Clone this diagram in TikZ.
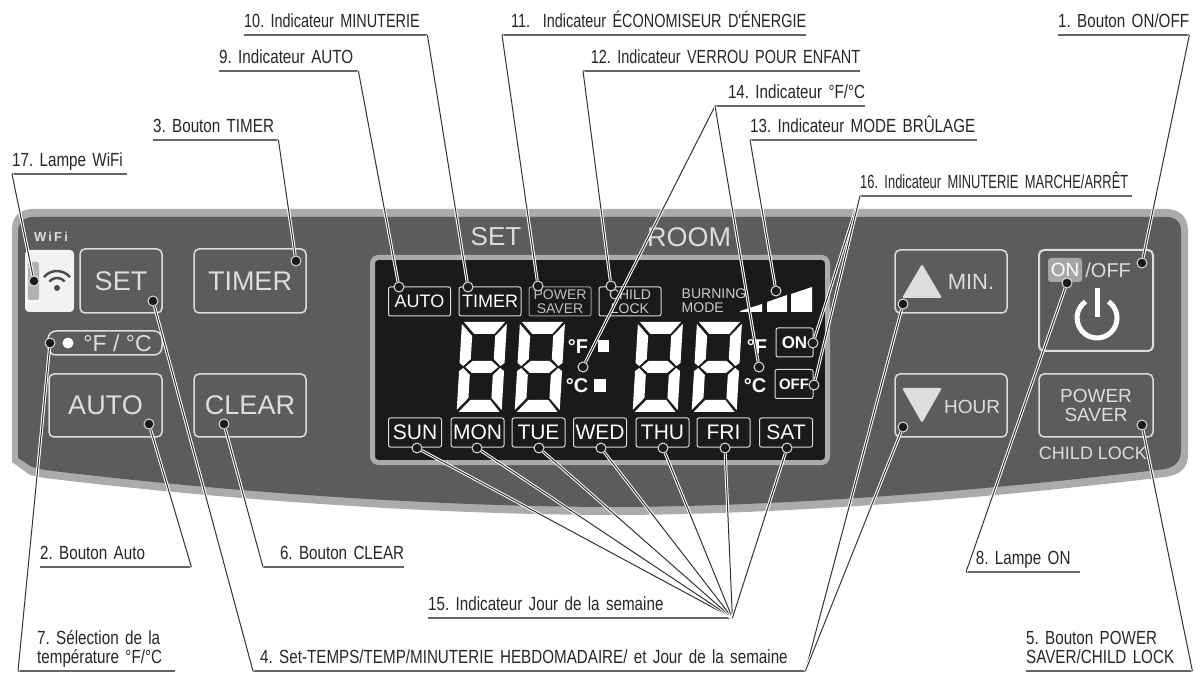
\documentclass[tikz,border=0pt]{standalone}
\usepackage{fontspec}
\usepackage{tikz}
\usetikzlibrary{positioning}
\setmainfont{Liberation Sans}
\newfontfamily\lblfamily{Liberation Sans}[FakeStretch=0.8]
\newfontfamily\tightfamily{Liberation Sans}[FakeStretch=0.76]
\newfontfamily\tighterfamily{Liberation Sans}[FakeStretch=0.68]
\definecolor{shell}{HTML}{5D5B5D}
\definecolor{rim}{HTML}{ABABAB}
\definecolor{glass}{HTML}{1B191B}
\definecolor{bright}{HTML}{DDDDDD}
\newcommand{\fsz}[1]{\fontsize{#1}{#1}\selectfont}
\tikzstyle{lbl} = [font=\lblfamily\fontsize{19}{19}\selectfont\frenchspacing, text=black!85, inner xsep=0pt, inner ysep=2pt,
    anchor=south west, align=left, execute at end node=\strut]
\tikzstyle{rule} = [draw=black!60, line width=1.8pt]
\tikzstyle{lead} = [draw=black!80, line width=1pt, preaction={draw=white, line width=3pt}]
\tikzstyle{marker} = [circle, draw=bright, fill=glass, line width=1pt, minimum size=10pt, inner sep=0pt]
\tikzstyle{btn} = [draw=bright, line width=1.5pt, rounded corners=5pt, inner sep=0pt, text=bright, font=\fsz{27}]
\tikzstyle{paneltext} = [text=bright, inner sep=0pt]
\tikzstyle{tag} = [draw=bright, line width=1pt, rounded corners=2pt, inner sep=0pt, text=white, align=center,
    minimum width=62pt, minimum height=29pt]
\tikzstyle{daytag} = [tag, minimum width=53pt, font=\fsz{21}]
\tikzstyle{seg} = [fill=white]
% one seven segment digit, top left corner at #1,#2
\newcommand{\lcddigit}[2]{
    \begin{scope}[shift={(#1,#2)}, xslant=0.06]
        \fill[seg] (2,0)--(43,0)--(33,12)--(13,12)--cycle;
        \fill[seg] (2,90)--(43,90)--(33,78)--(13,78)--cycle;
        \fill[seg] (6,45)--(13,39)--(32,39)--(39,45)--(32,51)--(13,51)--cycle;
        \fill[seg] (0,2)--(11,14)--(11,37)--(4,44)--(0,41)--cycle;
        \fill[seg] (45,2)--(34,14)--(34,37)--(41,44)--(45,41)--cycle;
        \fill[seg] (0,49)--(4,46)--(11,53)--(11,76)--(0,88)--cycle;
        \fill[seg] (45,49)--(41,46)--(34,53)--(34,76)--(45,88)--cycle;
    \end{scope}
}

\begin{document}
\begin{tikzpicture}[x=1pt,y=-1pt]
    \useasboundingbox (0,0) rectangle (1195,676);
    % panel
    \fill[rim] (12,230) .. controls (12,216) and (20,209) .. (34,209) -- (1166,209)
        .. controls (1180,209) and (1188,217) .. (1188,231) -- (1188,455)
        .. controls (1188,468) and (1180,475) .. (1165,477)
        .. controls (1000,497) and (800,514) .. (620,515)
        .. controls (420,515) and (200,497) .. (45,478) -- (30,475) -- (12,462) -- cycle;
    \fill[shell] (18,232) .. controls (18,222) and (24,217) .. (34,217) -- (1166,217)
        .. controls (1176,217) and (1181,222) .. (1181,232) -- (1181,450)
        .. controls (1181,461) and (1175,467) .. (1165,469)
        .. controls (1000,489) and (800,506) .. (620,507)
        .. controls (420,507) and (200,489) .. (45,470) -- (32,467) -- (18,458) -- cycle;
    % left buttons
    \node[paneltext, font=\bfseries\fsz{13}] (wifitext) at (51,237) {W\,i\,F\,i};
    \node[fill=white!95!black, rounded corners=4pt, minimum width=49pt, minimum height=62pt, inner sep=0pt] (wifi) at (49.5,281) {};
    \fill[black!30, rounded corners=2pt] (28,262) rectangle (39,300);
    \fill[black!70] (57,288) circle (3pt);
    \draw[black!70, line width=2.5pt] (57,288) ++(40:10pt) arc[start angle=40, end angle=140, radius=10pt];
    \draw[black!70, line width=2.5pt] (57,288) ++(40:17pt) arc[start angle=40, end angle=140, radius=17pt];
    \node[btn, minimum width=82pt, minimum height=64pt] (setbtn) at (121,281) {SET};
    \node[btn, minimum width=112pt, minimum height=64pt] (timerbtn) at (250,281) {TIMER};
    \node[btn, minimum width=113pt, minimum height=63pt] (autobtn) at (105.5,405.5) {AUTO};
    \node[btn, minimum width=112pt, minimum height=63pt] (clearbtn) at (250,405.5) {CLEAR};
    \node[btn, minimum width=114pt, minimum height=24pt, rounded corners=8pt, font=\fsz{23}] (unitbtn) at (105,343) {\hspace{25pt}°F / °C};
    \node[circle, fill=white, minimum size=11pt, inner sep=0pt] (unitled) at (68,343) {};
    % display
    \node[paneltext, font=\fsz{26}] (settext) at (496,237) {SET};
    \node[paneltext, font=\fsz{27}] (roomtext) at (689,237) {ROOM};
    \node[draw=rim, fill=glass, line width=5pt, rounded corners=6pt, minimum width=455pt, minimum height=205pt] (lcd) at (600,360) {};
    \node[tag, font=\fsz{18}] (autotag) at (419.5,301.5) {AUTO};
    \node[tag, font=\fsz{18}] (timertag) at (490,301.5) {TIMER};
    \node[tag, font=\fsz{14}, text=black!25, draw=black!40] (powertag) at (560,301.5) {\fontsize{14}{12}\selectfont POWER\\SAVER};
    \node[tag, font=\fsz{14}, text=black!20] (childtag) at (630,301.5) {\fontsize{14}{12}\selectfont CHILD\\LOCK};
    \node[inner sep=0pt, text=black!20, align=left, font=\fsz{14}] (burntext) at (714,301) {\fontsize{14}{12}\selectfont BURNING\\MODE};
    \fill[white] (740,312)--(740,311)--(762,304)--(762,312)--cycle;
    \fill[white] (767,312)--(767,302)--(787,295)--(787,312)--cycle;
    \fill[white] (791,312)--(791,294)--(812,287)--(812,312)--cycle;
    \lcddigit{462}{322}
    \lcddigit{520}{322}
    \lcddigit{638}{322}
    \lcddigit{697}{322}
    \fill[white] (598,340) rectangle (609,352);
    \fill[white] (594,379) rectangle (606,392);
    \node[paneltext, text=white, font=\bfseries\fsz{20}] (leftf) at (578,347) {°F};
    \node[paneltext, text=white, font=\bfseries\fsz{20}] (leftc) at (577,386) {°C};
    \node[paneltext, text=white, font=\bfseries\fsz{20}] (rightf) at (757,347) {°F};
    \node[paneltext, text=white, font=\bfseries\fsz{20}] (rightc) at (755,386) {°C};
    \node[tag, minimum width=37pt, font=\bfseries\fsz{17}] (ontag) at (794.5,342.5) {ON};
    \node[tag, minimum width=38pt, font=\bfseries\fsz{15}] (offtag) at (794,384) {OFF};
    \node[daytag] (suntag) at (415,432.5) {SUN};
    \node[daytag] (montag) at (477.5,432.5) {MON};
    \node[daytag] (tuetag) at (538.5,432.5) {TUE};
    \node[daytag] (wedtag) at (600,432.5) {WED};
    \node[daytag] (thutag) at (662.5,432.5) {THU};
    \node[daytag] (fritag) at (723.5,432.5) {FRI};
    \node[daytag] (sattag) at (786,432.5) {SAT};
    % right buttons
    \node[btn, minimum width=112pt, minimum height=63pt] (minbtn) at (951,281.5) {};
    \fill[bright, rounded corners=2pt] (922,264)--(942,298)--(902,298)--cycle;
    \node[paneltext, font=\fsz{22}] (mintext) at (971,282) {MIN.};
    \node[btn, minimum width=112pt, minimum height=63pt] (hourbtn) at (951,405.5) {};
    \fill[bright, rounded corners=2pt] (902,388)--(942,388)--(922,423)--cycle;
    \node[paneltext, font=\fsz{19}] (hourtext) at (972,407) {HOUR};
    \node[btn, minimum width=114pt, minimum height=101pt, line width=2pt] (powerbtn) at (1096,300.5) {};
    \node[fill=black!35, rounded corners=3pt, inner sep=0pt, minimum width=34pt, minimum height=24pt, text=white, font=\fsz{19}] (onlamp) at (1065,270) {ON};
    \node[paneltext, font=\fsz{20}, right=3pt of onlamp] (offtext) {/OFF};
    \draw[white, line width=5pt] (1108.5,301.6) arc[start angle=55, end angle=-235, radius=20pt];
    \draw[white, line width=5pt] (1097,288) -- (1097,317);
    \node[btn, minimum width=114pt, minimum height=63pt, align=center, font=\fsz{19}] (savebtn) at (1096,405.5) {\fontsize{19}{18}\selectfont POWER\\SAVER};
    \node[paneltext, font=\fsz{18}] (childtext) at (1093,453) {CHILD LOCK};
    % markers
    \node[marker] (wifipin) at (34,281) {};
    \node[marker] (setpin) at (153,301) {};
    \node[marker] (timerpin) at (296,261) {};
    \node[marker] (unitpin) at (50,343) {};
    \node[marker] (autopin) at (149,424) {};
    \node[marker] (clearpin) at (224,424) {};
    \node[marker] (iautopin) at (399,287) {};
    \node[marker] (itimerpin) at (468,287) {};
    \node[marker] (isavepin) at (538,286) {};
    \node[marker] (ichildpin) at (611,286) {};
    \node[marker] (iburnpin) at (776,291) {};
    \node[marker] (ifcleft) at (583,367) {};
    \node[marker] (ifcright) at (759,367) {};
    \node[marker] (ionpin) at (813,343) {};
    \node[marker] (ioffpin) at (814,385) {};
    \node[marker] (sunpin) at (417,448) {};
    \node[marker] (monpin) at (477,448) {};
    \node[marker] (tuepin) at (539,448) {};
    \node[marker] (wedpin) at (601,448) {};
    \node[marker] (thupin) at (663,448) {};
    \node[marker] (fripin) at (725,448) {};
    \node[marker] (satpin) at (787,448) {};
    \node[marker] (minpin) at (903,304) {};
    \node[marker] (hourpin) at (903,427) {};
    \node[marker] (powerpin) at (1142,263) {};
    \node[marker] (onpin) at (1067,283) {};
    \node[marker] (savepin) at (1142,425) {};
    % labels
    \node[lbl, text width=131pt] (lbl1) at (1058,35) {1. Bouton ON/OFF};
    \node[lbl, text width=151pt] (lbl2) at (40,567) {2. Bouton Auto};
    \node[lbl, text width=125pt] (lbl3) at (153,140) {3. Bouton TIMER};
    \node[lbl, text width=552pt] (lbl4) at (253,671) {\hspace*{7pt}4. Set-TEMPS/TEMP/MINUTERIE HEBDOMADAIRE/ et Jour de la semaine};
    \node[lbl, text width=166pt] (lbl5) at (1026,671) {5. Bouton POWER\\SAVER/CHILD LOCK};
    \node[lbl, text width=141pt, align=right] (lbl6) at (263,567) {6. Bouton CLEAR};
    \node[lbl, text width=157pt] (lbl7) at (18,671) {\hspace*{19pt}7. Sélection de la\\\hspace*{19pt}température °F/°C};
    \node[lbl, text width=114pt, align=center] (lbl8) at (966,572) {8. Lampe ON};
    \node[lbl, text width=139pt] (lbl9) at (219,71) {9. Indicateur AUTO};
    \node[lbl, text width=183pt, font=\tightfamily\fontsize{19}{19}\selectfont\frenchspacing] (lbl10) at (244,35) {10. Indicateur MINUTERIE};
    \node[lbl, text width=304pt, align=right, font=\tightfamily\fontsize{19}{19}\selectfont\frenchspacing] (lbl11) at (502,35) {11.\ \ Indicateur ÉCONOMISEUR D'ÉNERGIE};
    \node[lbl, text width=277pt, align=right, font=\tightfamily\fontsize{19}{19}\selectfont\frenchspacing] (lbl12) at (583,71) {12. Indicateur VERROU POUR ENFANT};
    \node[lbl, text width=227pt] (lbl13) at (750,140) {13. Indicateur MODE BRÛLAGE};
    \node[lbl, text width=150pt, align=right] (lbl14) at (715,106) {14. Indicateur °F/°C};
    \node[lbl, text width=304pt] (lbl15) at (428,618) {15. Indicateur Jour de la semaine};
    \node[lbl, text width=272pt, font=\tighterfamily\fontsize{19}{19}\selectfont\frenchspacing] (lbl16) at (860,196) {16. Indicateur MINUTERIE MARCHE/ARRÊT};
    \node[lbl, text width=115pt] (lbl17) at (12,174) {17. Lampe WiFi};
    % underlines
    \draw[rule] (lbl1.south west) -- (lbl1.south east);
    \draw[rule] (lbl2.south west) -- (lbl2.south east);
    \draw[rule] (lbl3.south west) -- (lbl3.south east);
    \draw[rule] (lbl4.south west) -- (lbl4.south east);
    \draw[rule] (lbl5.south west) -- (lbl5.south east);
    \draw[rule] (lbl6.south west) -- (lbl6.south east);
    \draw[rule] (lbl7.south west) -- (lbl7.south east);
    \draw[rule] (lbl8.south west) -- (lbl8.south east);
    \draw[rule] (lbl9.south west) -- (lbl9.south east);
    \draw[rule] (lbl10.south west) -- (lbl10.south east);
    \draw[rule] (lbl11.south west) -- (lbl11.south east);
    \draw[rule] (lbl12.south west) -- (lbl12.south east);
    \draw[rule] (lbl13.south west) -- (lbl13.south east);
    \draw[rule] (lbl14.south west) -- (lbl14.south east);
    \draw[rule] (lbl15.south west) -- (lbl15.south east);
    \draw[rule] (lbl16.south west) -- (lbl16.south east);
    \draw[rule] (lbl17.south west) -- (lbl17.south east);
    % leaders
    \draw[lead] (lbl1.south east) -- (powerpin);
    \draw[lead] (lbl2.south east) -- (autopin);
    \draw[lead] (lbl3.south east) -- (timerpin);
    \draw[lead] (lbl4.south west) -- (setpin);
    \draw[lead] (lbl4.south east) -- (minpin);
    \draw[lead] (lbl4.south east) -- (hourpin);
    \draw[lead] (lbl5.south east) -- (savepin);
    \draw[lead] (lbl6.south west) -- (clearpin);
    \draw[lead] (lbl7.south west) -- (unitpin);
    \draw[lead] (lbl8.south west) -- (onpin);
    \draw[lead] (lbl9.south east) -- (iautopin);
    \draw[lead] (lbl10.south east) -- (itimerpin);
    \draw[lead] (lbl11.south west) -- (isavepin);
    \draw[lead] (lbl12.south west) -- (ichildpin);
    \draw[lead] (lbl13.south west) -- (iburnpin);
    \draw[lead] (lbl14.south west) -- (ifcleft);
    \draw[lead] (lbl14.south west) -- (ifcright);
    \draw[lead] (lbl15.south east) -- (sunpin);
    \draw[lead] (lbl15.south east) -- (monpin);
    \draw[lead] (lbl15.south east) -- (tuepin);
    \draw[lead] (lbl15.south east) -- (wedpin);
    \draw[lead] (lbl15.south east) -- (thupin);
    \draw[lead] (lbl15.south east) -- (fripin);
    \draw[lead] (lbl15.south east) -- (satpin);
    \draw[lead] (lbl16.south west) -- (ionpin);
    \draw[lead] (lbl16.south west) -- (ioffpin);
    \draw[lead] (lbl17.south west) -- (wifipin);
\end{tikzpicture}
\end{document}
